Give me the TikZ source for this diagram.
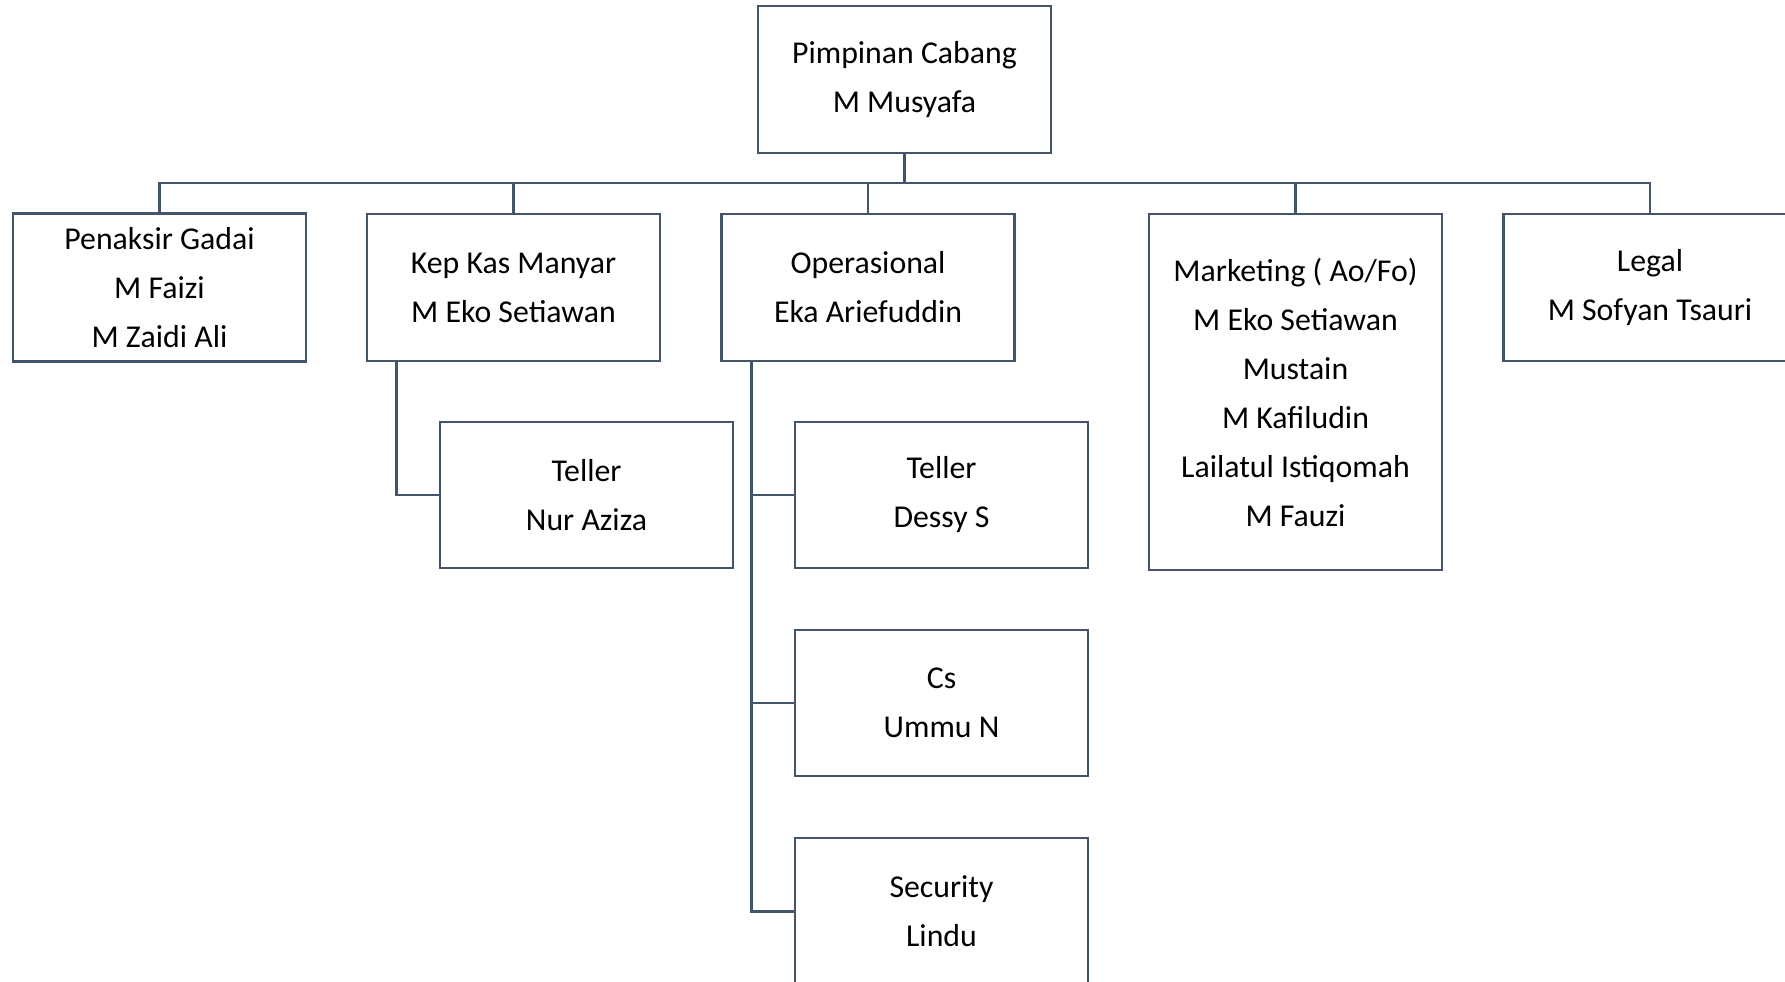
\documentclass[tikz,border=0pt]{standalone}
\usepackage{fontspec}
\setmainfont{Carlito}
\definecolor{linec}{HTML}{44546A}
\begin{document}
\begin{tikzpicture}[x=1pt,y=-1pt,
  box/.style={draw=linec, line width=2.6pt, fill=white, minimum width=293pt,
    align=center, inner sep=0pt, font=\fontsize{31.8}{49}\selectfont},
  link/.style={draw=linec, line width=2.6pt}]
\useasboundingbox (0,0) rectangle (1785,982);
\clip (0,0) rectangle (1785,982);
% top level
\node[box, minimum height=147pt] (top) at (904.5,79.5) {Pimpinan Cabang\\M Musyafa};
% second level
\node[box, minimum height=148pt] (pen) at (159.5,287.5) {Penaksir Gadai\\M Faizi\\M Zaidi Ali};
\node[box, minimum height=147pt] (kep) at (513.5,287.5) {Kep Kas Manyar\\M Eko Setiawan};
\node[box, minimum height=147pt] (ops) at (868,287.5) {Operasional\\Eka Ariefuddin};
\node[box, minimum height=356pt] (mkt) at (1295.5,392) {Marketing ( Ao/Fo)\\M Eko Setiawan\\Mustain\\M Kafiludin\\Lailatul Istiqomah\\M Fauzi};
\node[box, minimum height=147pt] (legal) at (1650,287.5) {Legal\\M Sofyan Tsauri};
% third level
\node[box, minimum height=146pt] (tel1) at (586.5,495) {Teller\\Nur Aziza};
\node[box, minimum height=146pt] (tel2) at (941.5,495) {Teller\\Dessy S};
\node[box, minimum height=146pt] (cs) at (941.5,703) {Cs\\Ummu N};
\node[box, minimum height=147pt] (sec) at (941.5,911.5) {Security\\Lindu};
% bus from the head to the departments
\coordinate (bus) at (905,183);
\draw[link] (top.south) -- (top.south |- bus);
\draw[link] (pen.north) -- (pen.north |- bus) -| (legal.north);
\draw[link] (kep.north) -- (kep.north |- bus);
\draw[link] (ops.north) -- (ops.north |- bus);
\draw[link] (mkt.north) -- (mkt.north |- bus);
% branches to staff
\draw[link] ([xshift=31pt]kep.south west) |- (tel1.west);
\draw[link] ([xshift=31pt]ops.south west) |- (sec.west);
\draw[link] ([xshift=31pt]ops.south west) |- (tel2.west);
\draw[link] ([xshift=31pt]ops.south west) |- (cs.west);
\end{tikzpicture}
\end{document}
